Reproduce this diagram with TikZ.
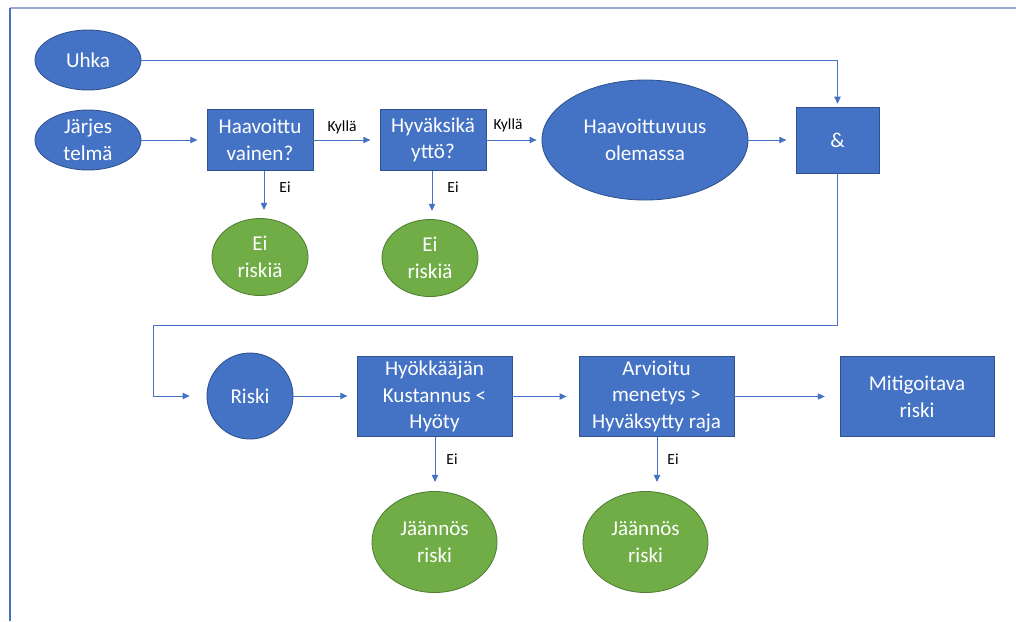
\documentclass[tikz,border=0pt]{standalone}
\usepackage{fontspec}
\setmainfont{Carlito}
\usetikzlibrary{shapes.geometric,arrows.meta}
\definecolor{oblue}{RGB}{68,114,196}
\definecolor{oblueb}{RGB}{47,82,143}
\definecolor{ogreen}{RGB}{112,173,71}
\definecolor{ogreenb}{RGB}{80,126,50}
\definecolor{frametop}{RGB}{150,170,205}
\begin{document}
\begin{tikzpicture}[x=0.025cm,y=-0.025cm,
  shp/.style={fill=oblue,draw=oblueb,line width=0.6pt,text=white,align=center,inner sep=0pt,
    font=\fontsize{15}{19}\selectfont},
  bbox/.style={shp,rectangle},
  bell/.style={shp,ellipse},
  gell/.style={shp,ellipse,fill=ogreen,draw=ogreenb},
  conn/.style={draw=oblue,line width=0.7pt,-{Triangle[length=5pt,width=4.5pt]},shorten >=#1},
  conn/.default=6.5pt,
  lbl/.style={font=\fontsize{11}{12}\selectfont,text=black,inner sep=0pt}
]
\useasboundingbox (0,0) rectangle (1016,621);
% frame
\draw[frametop,line width=1.6pt] (10,8) -- (1016,8);
\draw[oblue,line width=1pt] (10,8) -- (10,621);
% row 1
\node[bell,minimum width=2.65cm,minimum height=1.5cm] (uhka) at (88,60) {Uhka};
\node[bell,minimum width=2.65cm,minimum height=1.5cm] (jarj) at (88,140) {Järjes\\telmä};
\node[bbox,minimum width=2.65cm,minimum height=1.525cm] (haav) at (260,140) {Haavoittu\\vainen?};
\node[bbox,minimum width=2.65cm,minimum height=1.525cm] (hyva) at (433,140) {Hyväksikä\\yttö?};
\node[bell,minimum width=5.15cm,minimum height=3.0cm] (olem) at (645,140) {Haavoittuvuus\\olemassa};
\node[bbox,minimum width=2.075cm,minimum height=1.65cm] (amp) at (837.5,140) {\&};
\node[gell,minimum width=2.4cm,minimum height=1.925cm] (ei1) at (260,257) {Ei\\riskiä};
\node[gell,minimum width=2.4cm,minimum height=1.925cm] (ei2) at (430,258) {Ei\\riskiä};
% row 2
\node[shp,circle,minimum size=2.15cm] (riski) at (250,396) {Riski};
\node[bbox,minimum width=3.875cm,minimum height=2.0cm] (hyok) at (434.5,396.5) {Hyökkääjän\\Kustannus <\\Hyöty};
\node[bbox,minimum width=3.875cm,minimum height=2.0cm] (arv) at (656.5,396.5) {Arvioitu\\menetys >\\Hyväksytty raja};
\node[bbox,minimum width=3.85cm,minimum height=2.0cm] (mit) at (917,396.5) {Mitigoitava\\riski};
\node[gell,minimum width=3.125cm,minimum height=2.525cm] (jr1) at (434.5,542) {Jäännös\\riski};
\node[gell,minimum width=3.125cm,minimum height=2.525cm] (jr2) at (645.5,542) {Jäännös\\riski};
% connectors row 1
\draw[conn=2pt] (uhka.east) -| (amp.north);
\draw[conn] (jarj.east) -- (haav.west);
\draw[conn] (haav.east) -- (hyva.west);
\draw[conn=3.5pt] (hyva.east) -- (olem.west);
\draw[conn] (olem.east) -- (amp.west);
\draw[conn] (haav.south -| 264,0) -- (264,219);
\draw[conn] (hyva.south -| 432,0) -- (432,220);
% labels
\node[lbl] (k1) at (342,127) {Kyllä};
\node[lbl] (k2) at (508,125) {Kyllä};
\node[lbl] (e1) at (285,187) {Ei};
\node[lbl] (e2) at (453,187) {Ei};
\node[lbl] (e3) at (452,459) {Ei};
\node[lbl] (e4) at (673,459) {Ei};
% loop & -> Riski
\coordinate (c1) at (837.5,325);
\coordinate (c2) at (153,325);
\draw[conn=12pt] (amp.south) -- (c1) -- (c2) -- (c2 |- riski.west) -- (riski.west);
% row 2
\draw[conn] (riski.east) -- (riski.east -| hyok.west);
\draw[conn=8.5pt] (hyok.east) -- (arv.west);
\draw[conn=10.5pt] (arv.east) -- (mit.west);
\draw[conn] (435,437) -- (jr1.north -| 435,0);
\draw[conn] (657,437) -- (jr2.north -| 657,0);
\end{tikzpicture}
\end{document}
